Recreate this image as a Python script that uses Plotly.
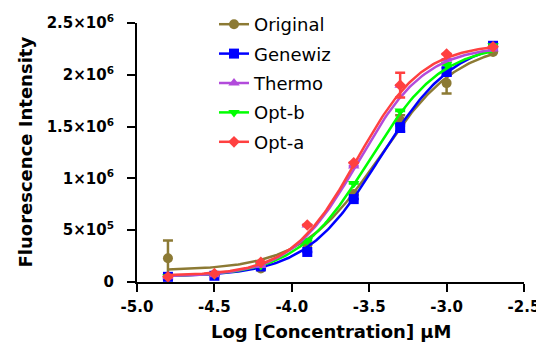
import numpy as np
import plotly.graph_objects as go

# ---- data ----
log_conc = [-4.8, -4.5, -4.2, -3.9, -3.6, -3.3, -3.0, -2.7]

series_names = ["Original", "Genewiz", "Thermo", "Opt-b", "Opt-a"]
original = [0.23e6, 0.07e6, 0.13e6, 0.36e6, 0.85e6, 1.56e6, 1.92e6, 2.22e6]
genewiz  = [0.05e6, 0.06e6, 0.15e6, 0.29e6, 0.80e6, 1.49e6, 2.03e6, 2.28e6]
thermo   = [0.05e6, 0.07e6, 0.16e6, 0.55e6, 1.12e6, 1.90e6, 2.15e6, 2.25e6]
opt_b    = [0.05e6, 0.07e6, 0.16e6, 0.40e6, 0.95e6, 1.65e6, 2.10e6, 2.28e6]
opt_a    = [0.05e6, 0.08e6, 0.19e6, 0.55e6, 1.15e6, 1.90e6, 2.20e6, 2.27e6]

original_err = [0.17e6, 0, 0, 0, 0, 0.05e6, 0.1e6, 0]
genewiz_err  = [0, 0, 0, 0, 0, 0.04e6, 0.04e6, 0]
thermo_err   = [0, 0, 0, 0, 0, 0, 0, 0]
opt_b_err    = [0, 0, 0, 0, 0, 0, 0, 0]
opt_a_err    = [0, 0, 0, 0, 0, 0.12e6, 0, 0]

# 4PL fit parameters (bottom, top, logEC50, hill)
fit_bottom = [0.11e6, 0.05e6, 0.05e6, 0.05e6, 0.06e6]
fit_top    = [2.32e6, 2.35e6, 2.28e6, 2.30e6, 2.30e6]
fit_ec50   = [-3.43, -3.43, -3.57, -3.50, -3.58]
fit_hill   = [1.7, 1.8, 2.0, 1.85, 2.05]

y_tickvals = [0, 0.5e6, 1e6, 1.5e6, 2e6, 2.5e6]
y_ticktext = ["0", "5×10<sup>5</sup>", "1×10<sup>6</sup>", "1.5×10<sup>6</sup>",
              "2×10<sup>6</sup>", "2.5×10<sup>6</sup>"]
x_tickvals = [-5.0, -4.5, -4.0, -3.5, -3.0, -2.5]
x_ticktext = ["-5.0", "-4.5", "-4.0", "-3.5", "-3.0", "-2.5"]

x_title = "Log [Concentration] μM"
y_title = "Fluorescence Intensity"

# ---- styles ----
colors = ["#8C7A34", "#0000FF", "#B24BDB", "#00FF00", "#FF4040"]
symbols = ["circle", "square", "triangle-up", "triangle-down", "diamond"]
msizes = [10, 10, 10, 10, 9]

values = [original, genewiz, thermo, opt_b, opt_a]
errors = [original_err, genewiz_err, thermo_err, opt_b_err, opt_a_err]

FONT = "DejaVu Sans"
W, H = 536, 335  # page body has an 8px default margin
ML, MR, MT, MB = 129, 20, 15, 61
PW, PH = W - ML - MR, H - MT - MB

fig = go.Figure()
xc = np.linspace(min(log_conc), max(log_conc), 200)

order = [0, 1, 3, 2, 4]  # draw order
for i in order:
    b, t, e, h = fit_bottom[i], fit_top[i], fit_ec50[i], fit_hill[i]
    yc = b + (t - b) / (1 + 10 ** ((e - xc) * h))
    fig.add_trace(go.Scatter(x=xc, y=yc, mode="lines",
                             line=dict(color=colors[i], width=2.5),
                             showlegend=False, hoverinfo="skip", cliponaxis=False))
    fig.add_trace(go.Scatter(x=log_conc, y=values[i], mode="markers",
                             marker=dict(color=colors[i], symbol=symbols[i], size=msizes[i]),
                             error_y=dict(type="data", array=errors[i], color=colors[i],
                                          thickness=2.5, width=5),
                             showlegend=False, cliponaxis=False))

for i in range(5):
    fig.add_trace(go.Scatter(x=[None], y=[None], mode="lines+markers", name=series_names[i],
                             legendgroup=series_names[i],
                             line=dict(color=colors[i], width=2.5),
                             marker=dict(color=colors[i], symbol=symbols[i], size=msizes[i])))

axis_common = dict(showline=True, linecolor="black", linewidth=2, ticks="outside",
                   tickwidth=2, ticklen=8, tickcolor="black", showgrid=False, zeroline=False,
                   automargin=False,
                   tickfont=dict(family=FONT, size=15, color="black", weight="bold"))

fig.update_xaxes(range=[-5.0, -2.5], tickvals=x_tickvals, ticktext=x_ticktext,
                 ticklabelstandoff=2, **axis_common)
fig.update_yaxes(range=[0, 2.5e6], tickvals=y_tickvals, ticktext=y_ticktext,
                 ticklabelstandoff=10, **axis_common)

fig.add_annotation(text="<b>" + x_title + "</b>", xref="paper", yref="paper",
                   x=(331 - 8 - ML) / PW, y=-(331 - 8 - MT - PH) / PH,
                   xanchor="center", yanchor="middle", showarrow=False,
                   font=dict(family=FONT, size=18, color="black"))
fig.add_annotation(text="<b>" + y_title + "</b>", xref="paper", yref="paper",
                   x=-(ML - (25 - 8)) / PW, y=0.5, textangle=-90,
                   xanchor="center", yanchor="middle", showarrow=False,
                   font=dict(family=FONT, size=18, color="black"))

fig.update_layout(
    width=W, height=H,
    margin=dict(l=ML, r=MR, t=MT, b=MB, autoexpand=False),
    plot_bgcolor="white", paper_bgcolor="white",
    font=dict(family=FONT, color="black"),
    legend=dict(x=(206 - ML) / PW, y=1 + (MT + 2) / PH,
                xanchor="left", yanchor="top",
                font=dict(family=FONT, size=18, color="black"), bgcolor="rgba(0,0,0,0)",
                tracegroupgap=3, itemwidth=30),
)

fig.write_html("out.html")
